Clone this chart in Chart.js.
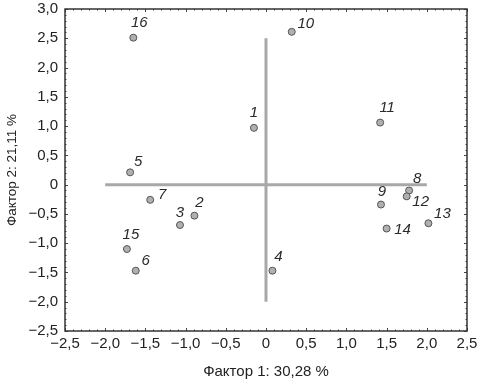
<!DOCTYPE html>
<html>
<head>
<meta charset="utf-8">
<script src="https://cdn.jsdelivr.net/npm/chart.js@4"></script>
<style>
html,body{margin:0;padding:0;background:#fff;}
#wrap{width:484px;height:385px;}
</style>
</head>
<body>
<div id="wrap"><canvas id="c" width="484" height="385"></canvas></div>
<script>
// Data
const labels = ['1','2','3','4','5','6','7','8','9','10','11','12','13','14','15','16'];
const factor1 = [-0.15,-0.89,-1.07,0.08,-1.69,-1.62,-1.44,1.78,1.43,0.32,1.42,1.75,2.02,1.50,-1.73,-1.65];
const factor2 = [0.97,-0.53,-0.69,-1.47,0.21,-1.47,-0.26,-0.10,-0.34,2.61,1.06,-0.20,-0.66,-0.75,-1.10,2.51];
const hAxisX = [-2.0, 2.0];
const hAxisY = [0, 0];
const vAxisX = [0, 0];
const vAxisY = [-2.0, 2.5];
const xTitle = 'Фактор 1: 30,28 %';
const yTitle = 'Фактор 2: 21,11 %';

// label offsets (style only)
const labelOffsets = {
  '1':[0,-15],'2':[5,-13],'3':[0,-12.5],'4':[6,-14],'5':[8,-11],'6':[10,-10],'7':[12,-5],
  '8':[8,-12],'9':[1,-13],'10':[14,-8],'11':[7,-14.5],'12':[14,5],'13':[14,-9],'14':[16,1],
  '15':[4,-14],'16':[6,-15]
};

function fmt(v){
  if (Math.abs(v) < 1e-9) return '0';
  const s = Math.abs(v).toFixed(1).replace('.', ',');
  return (v < 0 ? '\u2212' : '') + s;
}

const frame = {
  id: 'frame',
  beforeDatasetsDraw(chart){
    const {ctx, chartArea:a, scales:{x,y}} = chart;
    ctx.save();
    ctx.strokeStyle = '#444';
    ctx.lineWidth = 1;
    for (let i=-25;i<=25;i++){
      const px = Math.round(x.getPixelForValue(i/10))+0.5;
      const len = (i%5===0)?3:1.5;
      ctx.beginPath();
      ctx.moveTo(px,a.bottom); ctx.lineTo(px,a.bottom-len);
      ctx.moveTo(px,a.top); ctx.lineTo(px,a.top+len);
      ctx.stroke();
    }
    for (let i=-25;i<=30;i++){
      const py = Math.round(y.getPixelForValue(i/10))+0.5;
      const len = (i%5===0)?3:1.5;
      ctx.beginPath();
      ctx.moveTo(a.left,py); ctx.lineTo(a.left+len,py);
      ctx.moveTo(a.right,py); ctx.lineTo(a.right-len,py);
      ctx.stroke();
    }
    ctx.strokeStyle = '#333';
    ctx.lineWidth = 1.5;
    ctx.strokeRect(a.left, a.top, a.right-a.left, a.bottom-a.top);
    ctx.restore();
  },
  afterDatasetsDraw(chart){
    const {ctx} = chart;
    const meta = chart.getDatasetMeta(2);
    ctx.save();
    ctx.font = 'italic 15px "Liberation Sans", Arial, sans-serif';
    ctx.fillStyle = '#2a2a2a';
    ctx.textAlign = 'center';
    ctx.textBaseline = 'middle';
    meta.data.forEach((pt, i) => {
      const lab = labels[i];
      const off = labelOffsets[lab] || [6,-12];
      ctx.fillText(lab, pt.x + off[0], pt.y + off[1]);
    });
    ctx.restore();
  }
};

const tickFont = {family:'"Liberation Sans", Arial, sans-serif', size:15};
const xTitleFont = {family:'"Liberation Sans", Arial, sans-serif', size:15};
const yTitleFont = {family:'"Liberation Sans", Arial, sans-serif', size:13.5};

new Chart(document.getElementById('c'), {
  type: 'scatter',
  data: {
    datasets: [
      {data: hAxisX.map((v,i)=>({x:v,y:hAxisY[i]})), showLine:true, borderColor:'#a8a8a8', borderWidth:3, pointRadius:0},
      {data: vAxisX.map((v,i)=>({x:v,y:vAxisY[i]})), showLine:true, borderColor:'#a8a8a8', borderWidth:3, pointRadius:0},
      {data: factor1.map((v,i)=>({x:v,y:factor2[i]})), pointRadius:3.5, pointBackgroundColor:'#b0b0b0', pointBorderColor:'#555', pointBorderWidth:1}
    ]
  },
  options: {
    responsive:false, animation:false,
    layout:{padding:{top:9,right:17,left:0,bottom:0}},
    plugins:{legend:{display:false}, tooltip:{enabled:false}},
    scales:{
      x:{
        type:'linear', min:-2.5, max:2.5,
        grid:{display:true, drawOnChartArea:false, drawTicks:false},
        border:{display:false},
        ticks:{stepSize:0.5, font:tickFont, color:'#222', padding:4, maxRotation:0, callback:v=>fmt(v)},
        title:{display:true, text:xTitle, font:xTitleFont, color:'#222', padding:4},
        afterFit(s){ s.height = 54; s.paddingLeft = 0; s.paddingRight = 0; }
      },
      y:{
        type:'linear', min:-2.5, max:3.0,
        grid:{display:true, drawOnChartArea:false, drawTicks:false},
        border:{display:false},
        ticks:{stepSize:0.5, font:tickFont, color:'#222', padding:7, callback:v=>fmt(v)},
        title:{display:true, text:yTitle, font:yTitleFont, color:'#222', padding:4},
        afterFit(s){ s.width = 65; s.paddingTop = 0; s.paddingBottom = 0; }
      }
    }
  },
  plugins:[frame]
});
</script>
</body>
</html>
